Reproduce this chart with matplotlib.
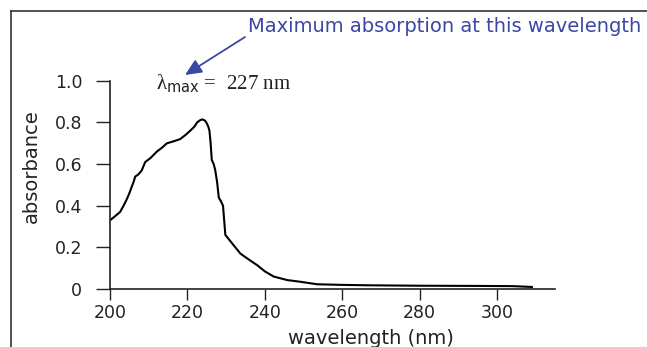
import matplotlib.pyplot as plt
from matplotlib.lines import Line2D

# UV absorption spectrum
wavelength = [200.0, 201.0, 202.6, 203.5, 204.3, 205.0, 205.6, 206.2, 206.5, 207.3, 208.2,
              209.1, 210.5, 212.1, 213.5, 214.7, 216.5, 218.1, 219.5, 220.7, 221.8,
              222.5, 223.2, 223.8, 224.5, 224.9, 225.4, 225.7, 226.0, 226.3, 226.8,
              227.2, 227.7, 228.1, 228.7, 229.2, 229.5, 229.8, 231.1, 233.7, 236.0,
              238.0, 240.0, 242.3, 245.8, 249.2, 253.5, 260.0, 267.0, 280.0, 295.0,
              304.0, 309.0]
absorbance = [0.33, 0.345, 0.37, 0.40, 0.43, 0.46, 0.49, 0.52, 0.54, 0.55, 0.57,
              0.61, 0.63, 0.66, 0.68, 0.70, 0.71, 0.72, 0.74, 0.76, 0.78,
              0.80, 0.81, 0.815, 0.81, 0.80, 0.78, 0.76, 0.70, 0.62, 0.60,
              0.57, 0.51, 0.44, 0.42, 0.40, 0.33, 0.26, 0.23, 0.17, 0.14,
              0.115, 0.085, 0.06, 0.043, 0.035, 0.023, 0.02, 0.018, 0.016, 0.015,
              0.014, 0.01]

xticks = [200, 220, 240, 260, 280, 300]
yticks = [0, 0.2, 0.4, 0.6, 0.8, 1.0]
ytick_labels = ['0', '0.2', '0.4', '0.6', '0.8', '1.0']

plt.rcParams['font.family'] = ['DejaVu Sans']

fig = plt.figure(figsize=(6.47, 3.47), dpi=100)
ax = fig.add_axes([0.170, 0.167, 0.688, 0.600])

ax.plot(wavelength, absorbance, color='black', linewidth=1.5)

ax.set_xlim(200, 315)
ax.set_ylim(0, 1.0)
ax.set_xticks(xticks)
ax.set_yticks(yticks)
ax.set_yticklabels(ytick_labels)
ax.tick_params(direction='out', width=1, labelsize=12.5, colors='#222222')
ax.tick_params(axis='x', length=8, pad=3)
ax.tick_params(axis='y', length=10, pad=10)
for side in ['top', 'right']:
    ax.spines[side].set_visible(False)
for side in ['left', 'bottom']:
    ax.spines[side].set_linewidth(1.2)
    ax.spines[side].set_color('#222222')

ax.set_xlabel('wavelength (nm)', fontsize=14, color='#222222')
ax.xaxis.set_label_coords(0.587, -0.19)
ax.set_ylabel('absorbance', fontsize=14, color='#222222')
ax.yaxis.set_label_coords(-0.155, 0.59)

# lambda max label (upright serif lambda, sans subscript)
ax.text(212.0, 0.985, 'λ$_{\\mathsf{max}}$ =  227 nm', fontsize=15,
        family=['Liberation Serif', 'DejaVu Serif'], va='center', ha='left',
        color='#222222')

# annotation with arrow
fig.text(248 / 647, 1 - 27 / 347, 'Maximum absorption at this wavelength',
         fontsize=14, color='#3b47a6', ha='left', va='center')
ax.annotate('', xy=(185 / 647, 1 - 75 / 347), xycoords='figure fraction',
            xytext=(245 / 647, 1 - 37 / 347), textcoords='figure fraction',
            arrowprops=dict(arrowstyle='-|>,head_length=1.0,head_width=0.45',
                            color='#3b47a6', lw=1.3, shrinkA=0, shrinkB=0),
            annotation_clip=False)

# outer frame (top and left edges only)
fig.add_artist(Line2D([11 / 647, 1.0], [1 - 11 / 347, 1 - 11 / 347],
                      transform=fig.transFigure, color='#333333', linewidth=1.2))
fig.add_artist(Line2D([11 / 647, 11 / 647], [0, 1 - 11 / 347],
                      transform=fig.transFigure, color='#333333', linewidth=1.2))

fig.savefig('out.png', dpi=100)
